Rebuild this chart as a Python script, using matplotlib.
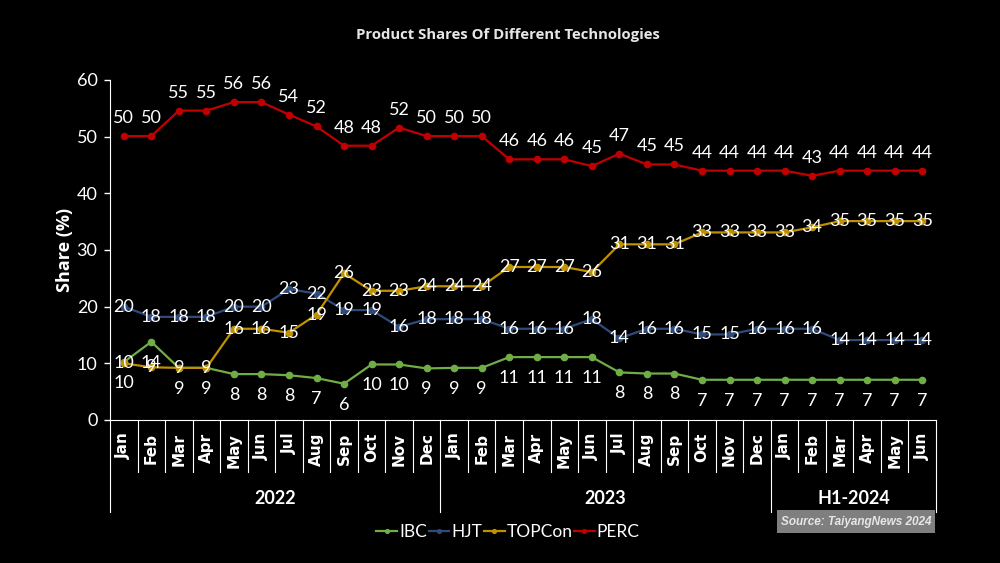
import matplotlib
matplotlib.use("Agg")
import matplotlib.pyplot as plt
from matplotlib.patches import Rectangle

# months on the x axis, grouped by year
months = ['Jan', 'Feb', 'Mar', 'Apr', 'May', 'Jun', 'Jul', 'Aug', 'Sep', 'Oct', 'Nov', 'Dec',
          'Jan', 'Feb', 'Mar', 'Apr', 'May', 'Jun', 'Jul', 'Aug', 'Sep', 'Oct', 'Nov', 'Dec',
          'Jan', 'Feb', 'Mar', 'Apr', 'May', 'Jun']
years = ['2022', '2023', 'H1-2024']
year_counts = [12, 12, 6]

# shares in %
ibc = [10.2, 13.8, 9.2, 9.2, 8.1, 8.1, 7.9, 7.4, 6.4, 9.8, 9.8, 9.1,
       9.2, 9.2, 11.1, 11.1, 11.1, 11.1, 8.4, 8.2, 8.2, 7.1, 7.1, 7.1,
       7.1, 7.1, 7.1, 7.1, 7.1, 7.1]
hjt = [20.0, 18.2, 18.2, 18.2, 20.0, 20.0, 23.1, 22.3, 19.4, 19.4, 16.4, 17.8,
       17.8, 17.8, 16.1, 16.1, 16.1, 17.8, 14.4, 16.1, 16.1, 15.1, 15.1, 16.1,
       16.1, 16.1, 14.1, 14.1, 14.1, 14.1]
topcon = [10.0, 9.3, 9.2, 9.2, 16.1, 16.1, 15.4, 18.6, 25.9, 22.8, 22.8, 23.6,
          23.6, 23.6, 27.0, 27.0, 27.0, 26.1, 31.0, 31.0, 31.0, 33.1, 33.1, 33.1,
          33.1, 34.0, 35.1, 35.1, 35.1, 35.1]
perc = [50.1, 50.1, 54.6, 54.6, 56.1, 56.1, 53.9, 51.8, 48.4, 48.4, 51.6, 50.1,
        50.1, 50.1, 46.0, 46.0, 46.0, 44.8, 47.0, 45.1, 45.1, 44.0, 44.0, 44.0,
        44.0, 43.1, 44.0, 44.0, 44.0, 44.0]

series = [
    ('IBC', ibc, '#70ad47', -15),
    ('HJT', hjt, '#2f4b7c', 0),
    ('TOPCon', topcon, '#bf9000', 0),
    ('PERC', perc, '#c00000', 13),
]

plt.rcParams['font.family'] = ['Lato', 'DejaVu Sans']

fig = plt.figure(figsize=(10, 5.63), dpi=100, facecolor='black')
ax = fig.add_axes([0.110, 1 - 420 / 563, 0.826, 340 / 563])
ax.set_facecolor('black')

x = list(range(len(months)))
for name, vals, color, dy in series:
    ax.plot(x, vals, color=color, lw=1.6, marker='o', ms=4.5, label=name, zorder=3)
    for xi, v in zip(x, vals):
        ax.annotate(f'{v:.0f}', (xi, v), xytext=(0, dy), textcoords='offset points',
                    ha='center', va='center', color='white', fontsize=13, zorder=5)

ax.set_xlim(-0.5, len(months) - 0.5)
ax.set_ylim(0, 60)
ax.set_yticks(range(0, 61, 10))
ax.tick_params(axis='y', colors='white', labelsize=13, length=4, width=1, pad=5)
ax.set_xticks(x)
ax.set_xticklabels(months, rotation=90, fontsize=11, fontweight='bold',
                   family='DejaVu Sans', color='white')
ax.tick_params(axis='x', length=0, pad=9)
for side in ['top', 'right']:
    ax.spines[side].set_visible(False)
for side in ['left', 'bottom']:
    ax.spines[side].set_color('white')
ax.set_ylabel('Share (%)', color='white', fontsize=13, fontweight='bold', labelpad=2,
              family=['Open Sans', 'DejaVu Sans'])

# separators under the category axis
trans = ax.get_xaxis_transform()
bounds = [-0.5]
for c in year_counts:
    bounds.append(bounds[-1] + c)
for i in range(len(months) + 1):
    xb = i - 0.5
    depth = -92 / 340 if xb in bounds else -52 / 340
    ax.plot([xb, xb], [0, depth], color='white', lw=0.8, transform=trans, clip_on=False)
for yr, a, b in zip(years, bounds[:-1], bounds[1:]):
    ax.text((a + b) / 2, -78 / 340, yr, transform=trans, ha='center', va='center',
            color='white', fontsize=13, fontweight='bold')

fig.text(0.508, 1 - 35 / 563, 'Product Shares Of Different Technologies', ha='center',
         va='center', color='#e6e6e6', fontsize=10.7, fontweight='bold',
         family=['Open Sans', 'DejaVu Sans'])

leg = fig.legend(loc='center', bbox_to_anchor=(0.508, 1 - 532 / 563), ncol=4, frameon=False,
                 handlelength=1.2, handletextpad=0.1, columnspacing=0.1, markerscale=0.6,
                 prop={'size': 12.5})
for t in leg.get_texts():
    t.set_color('white')

fig.patches.append(Rectangle((777 / 1000, 1 - 533 / 563), 158 / 1000, 23 / 563,
                             transform=fig.transFigure, facecolor='#7f7f7f', edgecolor='none'))
fig.text(856 / 1000, 1 - 521.5 / 563, 'Source: TaiyangNews 2024', ha='center', va='center',
         color='#e6e6e6', fontsize=8.5, fontweight='bold', style='italic',
         family=['Liberation Sans', 'DejaVu Sans'])

fig.savefig('out.png', dpi=100, facecolor='black')
